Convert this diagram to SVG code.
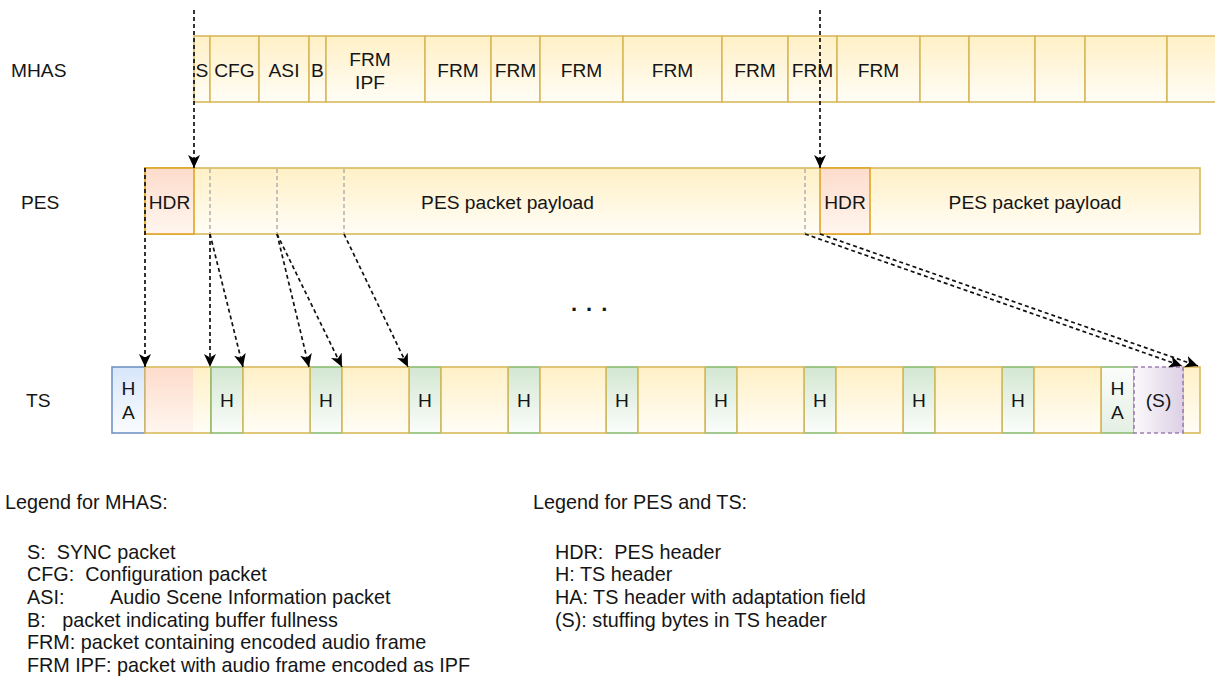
<svg xmlns="http://www.w3.org/2000/svg" width="1215" height="677" viewBox="0 0 1215 677">
  <defs>
    <linearGradient id="gOrange" x1="0" y1="0" x2="0" y2="1">
      <stop offset="0" stop-color="#fff0c6"/>
      <stop offset="1" stop-color="#fffdf6"/>
    </linearGradient>
    <linearGradient id="gPink" x1="0" y1="0" x2="0" y2="1">
      <stop offset="0" stop-color="#fddccb"/>
      <stop offset="1" stop-color="#fff6ef"/>
    </linearGradient>
    <linearGradient id="gGreen" x1="0" y1="0" x2="0" y2="1">
      <stop offset="0" stop-color="#d3e7d2"/>
      <stop offset="1" stop-color="#fbfdfb"/>
    </linearGradient>
    <linearGradient id="gGreenUp" x1="0" y1="0" x2="0" y2="1">
      <stop offset="0" stop-color="#fbfdfb"/>
      <stop offset="1" stop-color="#e4efe3"/>
    </linearGradient>
    <linearGradient id="gBlue" x1="0" y1="0" x2="0" y2="1">
      <stop offset="0" stop-color="#d8e6fb"/>
      <stop offset="1" stop-color="#fafcff"/>
    </linearGradient>
    <linearGradient id="gPurple" x1="0" y1="0" x2="1" y2="0">
      <stop offset="0" stop-color="#fbf9fc"/>
      <stop offset="1" stop-color="#ddd0e4"/>
    </linearGradient>
    <marker id="arrow" markerUnits="userSpaceOnUse" markerWidth="14" markerHeight="12" refX="13" refY="6" orient="auto">
      <path d="M0,0 L13,6 L0,12 L3.5,6 z" fill="#000"/>
    </marker>
    <style>
      text { font-family: "Liberation Sans", Arial, Helvetica, sans-serif; font-size: 19.2px; fill: #151515; }
      .lbl { text-anchor: middle; }
      .leg { font-size: 19.8px; white-space: pre; }
      .cell { fill: url(#gOrange); stroke: #d9b95c; stroke-width: 1.6; }
      .hdr { fill: url(#gPink); stroke: #e0a422; stroke-width: 1.6; }
      .th { fill: url(#gGreen); stroke: #8cbc72; stroke-width: 1.6; }
      .tha { fill: url(#gBlue); stroke: #7394c6; stroke-width: 1.6; }
      .tha2 { fill: url(#gGreenUp); stroke: #8cbc72; stroke-width: 1.6; }
      .stuff { fill: url(#gPurple); stroke: #a07fb2; stroke-width: 1.6; stroke-dasharray: 4 3; }
      .guide { fill: none; stroke: #b0b0b0; stroke-width: 1.5; stroke-dasharray: 4 3; }
      .conn { fill: none; stroke: #111; stroke-width: 1.7; stroke-dasharray: 4 3; marker-end: url(#arrow); }
    </style>
  </defs>

  <rect width="1215" height="677" fill="#ffffff"/>

  <!-- row titles -->
  <g id="row-labels">
    <text x="11" y="77">MHAS</text>
    <text x="21" y="209">PES</text>
    <text x="26" y="407">TS</text>
  </g>

  <!-- MHAS packet stream -->
  <g id="mhas">
    <rect class="cell" x="194" y="36" width="16" height="66"/>
    <rect class="cell" x="210" y="36" width="49" height="66"/>
    <rect class="cell" x="259" y="36" width="50" height="66"/>
    <rect class="cell" x="309" y="36" width="17" height="66"/>
    <rect class="cell" x="326" y="36" width="99" height="66"/>
    <rect class="cell" x="425" y="36" width="66" height="66"/>
    <rect class="cell" x="491" y="36" width="49" height="66"/>
    <rect class="cell" x="540" y="36" width="83" height="66"/>
    <rect class="cell" x="623" y="36" width="99" height="66"/>
    <rect class="cell" x="722" y="36" width="66" height="66"/>
    <rect class="cell" x="788" y="36" width="49" height="66"/>
    <rect class="cell" x="837" y="36" width="83" height="66"/>
    <rect class="cell" x="920" y="36" width="49" height="66"/>
    <rect class="cell" x="969" y="36" width="66" height="66"/>
    <rect class="cell" x="1035" y="36" width="50" height="66"/>
    <rect class="cell" x="1085" y="36" width="82" height="66"/>
    <rect class="cell" x="1167" y="36" width="70" height="66"/>
    <text class="lbl" x="202" y="77">S</text>
    <text class="lbl" x="234.5" y="77">CFG</text>
    <text class="lbl" x="284" y="77">ASI</text>
    <text class="lbl" x="317.5" y="77">B</text>
    <text class="lbl" x="370" y="66">FRM</text>
    <text class="lbl" x="370" y="89">IPF</text>
    <text class="lbl" x="458" y="77">FRM</text>
    <text class="lbl" x="515.5" y="77">FRM</text>
    <text class="lbl" x="581.5" y="77">FRM</text>
    <text class="lbl" x="672.5" y="77">FRM</text>
    <text class="lbl" x="755" y="77">FRM</text>
    <text class="lbl" x="812.5" y="77">FRM</text>
    <text class="lbl" x="878.5" y="77">FRM</text>
  </g>

  <!-- PES packets -->
  <g id="pes">
    <rect class="cell" x="145" y="168" width="1055" height="66"/>
    <rect class="hdr" x="145" y="168" width="49" height="66"/>
    <rect class="hdr" x="820" y="168" width="50" height="66"/>
    <text class="lbl" x="169.5" y="209">HDR</text>
    <text class="lbl" x="507.5" y="209">PES packet payload</text>
    <text class="lbl" x="845" y="209">HDR</text>
    <text class="lbl" x="1035" y="209">PES packet payload</text>
    <line class="guide" x1="210" y1="169" x2="210" y2="233"/>
    <line class="guide" x1="277" y1="169" x2="277" y2="233"/>
    <line class="guide" x1="344" y1="169" x2="344" y2="233"/>
    <line class="guide" x1="805" y1="169" x2="805" y2="233"/>
  </g>

  <!-- TS packets -->
  <g id="ts">
    <rect class="tha" x="112" y="367" width="33" height="66"/>
    <rect class="cell" x="145" y="367" width="66" height="66"/>
    <rect x="146" y="368" width="47" height="64" fill="url(#gPink)"/>
    <rect class="th" x="211" y="367" width="32" height="66"/>
    <rect class="th" x="310" y="367" width="32" height="66"/>
    <rect class="th" x="409" y="367" width="32" height="66"/>
    <rect class="th" x="508" y="367" width="32" height="66"/>
    <rect class="th" x="606" y="367" width="32" height="66"/>
    <rect class="th" x="705" y="367" width="32" height="66"/>
    <rect class="th" x="804" y="367" width="32" height="66"/>
    <rect class="th" x="903" y="367" width="32" height="66"/>
    <rect class="th" x="1002" y="367" width="32" height="66"/>
    <rect class="tha2" x="1101" y="367" width="33" height="66"/>
    <rect class="cell" x="243" y="367" width="67" height="66"/>
    <rect class="cell" x="342" y="367" width="67" height="66"/>
    <rect class="cell" x="441" y="367" width="67" height="66"/>
    <rect class="cell" x="540" y="367" width="66" height="66"/>
    <rect class="cell" x="638" y="367" width="67" height="66"/>
    <rect class="cell" x="737" y="367" width="67" height="66"/>
    <rect class="cell" x="836" y="367" width="67" height="66"/>
    <rect class="cell" x="935" y="367" width="67" height="66"/>
    <rect class="cell" x="1034" y="367" width="67" height="66"/>
    <rect class="cell" x="1183" y="367" width="17" height="66"/>
    <rect class="stuff" x="1134" y="367" width="49" height="66"/>
    <text class="lbl" x="128.5" y="395">H</text>
    <text class="lbl" x="128.5" y="419">A</text>
    <text class="lbl" x="227" y="407">H</text>
    <text class="lbl" x="326" y="407">H</text>
    <text class="lbl" x="425" y="407">H</text>
    <text class="lbl" x="524" y="407">H</text>
    <text class="lbl" x="622" y="407">H</text>
    <text class="lbl" x="721" y="407">H</text>
    <text class="lbl" x="820" y="407">H</text>
    <text class="lbl" x="919" y="407">H</text>
    <text class="lbl" x="1018" y="407">H</text>
    <text class="lbl" x="1117.5" y="395">H</text>
    <text class="lbl" x="1117.5" y="419">A</text>
    <text class="lbl" x="1158.5" y="407">(S)</text>
  </g>

  <!-- continuation mark -->
  <text id="ellipsis" x="571" y="311" style="font-size:22px; letter-spacing:9px; font-weight:bold">...</text>

  <!-- mapping connectors -->
  <g id="connectors">
    <line class="conn" x1="194" y1="10" x2="194" y2="168"/>
    <line class="conn" x1="820" y1="10" x2="820" y2="168"/>
    <line class="conn" x1="145" y1="168" x2="145" y2="367"/>
    <line class="conn" x1="210" y1="234" x2="210" y2="367"/>
    <line class="conn" x1="210" y1="234" x2="243" y2="367"/>
    <line class="conn" x1="277" y1="234" x2="309" y2="367"/>
    <line class="conn" x1="277" y1="234" x2="342" y2="367"/>
    <line class="conn" x1="344" y1="234" x2="408" y2="367"/>
    <line class="conn" x1="805" y1="234" x2="1182" y2="366"/>
    <line class="conn" x1="820" y1="234" x2="1198" y2="366"/>
  </g>

  <!-- legends -->
  <g id="legend-mhas">
    <text class="leg" x="5" y="509">Legend for MHAS:</text>
    <text class="leg" x="27" y="559">S:  SYNC packet</text>
    <text class="leg" x="27" y="581">CFG:  Configuration packet</text>
    <text class="leg" x="27" y="604">ASI:</text>
    <text class="leg" x="110" y="604">Audio Scene Information packet</text>
    <text class="leg" x="27" y="627">B:   packet indicating buffer fullness</text>
    <text class="leg" x="27" y="649">FRM: packet containing encoded audio frame</text>
    <text class="leg" x="27" y="672">FRM IPF: packet with audio frame encoded as IPF</text>
  </g>
  <g id="legend-pes-ts">
    <text class="leg" x="533" y="509">Legend for PES and TS:</text>
    <text class="leg" x="555" y="559">HDR:  PES header</text>
    <text class="leg" x="555" y="581">H: TS header</text>
    <text class="leg" x="555" y="604">HA: TS header with adaptation field</text>
    <text class="leg" x="555" y="627">(S): stuffing bytes in TS header</text>
  </g>
</svg>
